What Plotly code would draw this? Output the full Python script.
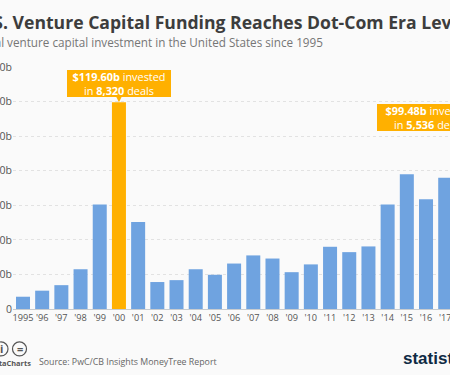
import plotly.graph_objects as go

years = ["1995", "'96", "'97", "'98", "'99", "'00", "'01", "'02", "'03", "'04", "'05", "'06",
         "'07", "'08", "'09", "'10", "'11", "'12", "'13", "'14", "'15", "'16", "'17", "'18"]
funding = [7.1, 10.6, 13.8, 23.0, 60.4, 119.6, 50.4, 15.6, 16.7, 23.0, 19.8, 26.3,
           31.0, 29.2, 21.3, 25.8, 36.0, 32.9, 36.2, 60.4, 77.9, 63.5, 76.0, 99.48]
highlights = {"'00": "<b>$119.60b</b> invested<br>in <b>8,320</b> deals", "'18": "<b>$99.48b</b> invested<br>in <b>5,536</b> deals"}
y_ticks = [0, 20, 40, 60, 80, 100, 120, 140]
y_labels = ["0", "$20b", "$40b", "$60b", "$80b", "$100b", "$120b", "$140b"]

W, H = 480, 375
L, R, T, B = 13, 6, 66.5, 66
BLUE, ORANGE, BG = "#6fa3e0", "#ffb000", "#fafafa"
FONT = "Open Sans"

fig = go.Figure(go.Bar(
    x=years, y=funding,
    marker=dict(color=[ORANGE if y == "'00" else BLUE for y in years], line_width=0),
    width=0.73,
))

def px(x):
    return (x - L) / (W - L - R)

def py(y):
    return 1 - (y - T) / (H - T - B)

def text(x, y, s, size, color, anchor="left", family=FONT):
    fig.add_annotation(xref="paper", yref="paper", x=px(x), y=py(y), text=s, showarrow=False,
                       xanchor=anchor, yanchor="middle", borderpad=0,
                       font=dict(size=size, color=color, family=family))

text(-26, 21.5, "<b>U.S. Venture Capital Funding Reaches Dot-Com Era Levels</b>", 17.6, "#3d3d3d")
text(-24, 41, "Total venture capital investment in the United States since 1995", 11.7, "#767676")
text(38, 362, "Source: PwC/CB Insights MoneyTree Report", 8.8, "#666666")
text(31.5, 363, "<b>StatistaCharts</b>", 7.4, "#555555", anchor="right")
text(402, 359, "<b>statista</b>", 17, "#0f2a44", family="Liberation Sans")

for cx, glyph in [(1, "i"), (19.5, "=")]:
    fig.add_shape(type="circle", xref="paper", yref="paper", x0=px(cx - 7), x1=px(cx + 7),
                  y0=py(356), y1=py(342), line=dict(color="#555555", width=1.2), fillcolor=BG)
    text(cx, 349, f"<b>{glyph}</b>", 11, "#555555", anchor="center")

for year, xshift, yshift in [("'00", 0, 19), ("'18", -35.6, 20)]:
    value = funding[years.index(year)]
    fig.add_annotation(x=year, y=value, xref="x", yref="y", text="", ax=0, ay=-7, showarrow=True,
                       arrowhead=2, arrowsize=1, arrowwidth=1.5, arrowcolor=ORANGE, standoff=0)
    fig.add_annotation(x=year, y=value, xref="x", yref="y", text=highlights[year], showarrow=False,
                       xshift=xshift, yshift=yshift, yanchor="middle", xanchor="center",
                       width=104, height=27, bgcolor=ORANGE, bordercolor=ORANGE, borderwidth=0, borderpad=0,
                       font=dict(size=10.9, color="white", family=FONT), align="center")

fig.update_layout(
    width=W, height=H, margin=dict(l=L, r=R, t=T, b=B), paper_bgcolor=BG, plot_bgcolor=BG,
    showlegend=False, bargap=0.27, font=dict(family=FONT),
    xaxis=dict(type="category", range=[-0.52, 23.5], showgrid=False, ticks="", tickangle=0, automargin=False,
               tickfont=dict(size=9.2, color="#555555"), showline=True, linecolor="#c8ccd0", linewidth=1,
               tickmode="array", tickvals=years, ticktext=years, fixedrange=True),
    yaxis=dict(range=[0, 140], tickmode="array", tickvals=y_ticks, ticktext=y_labels, automargin=False,
               tickfont=dict(size=10.5, color="#555555"), gridcolor="#e2e2e2", griddash="dot", gridwidth=1,
               zeroline=False, ticks="", fixedrange=True),
)

fig.write_html("out.html", config=dict(displayModeBar=False),
               post_script="document.body.style.margin='0';document.body.style.overflow='hidden';document.documentElement.style.overflow='hidden';document.body.style.background='#fafafa';")
